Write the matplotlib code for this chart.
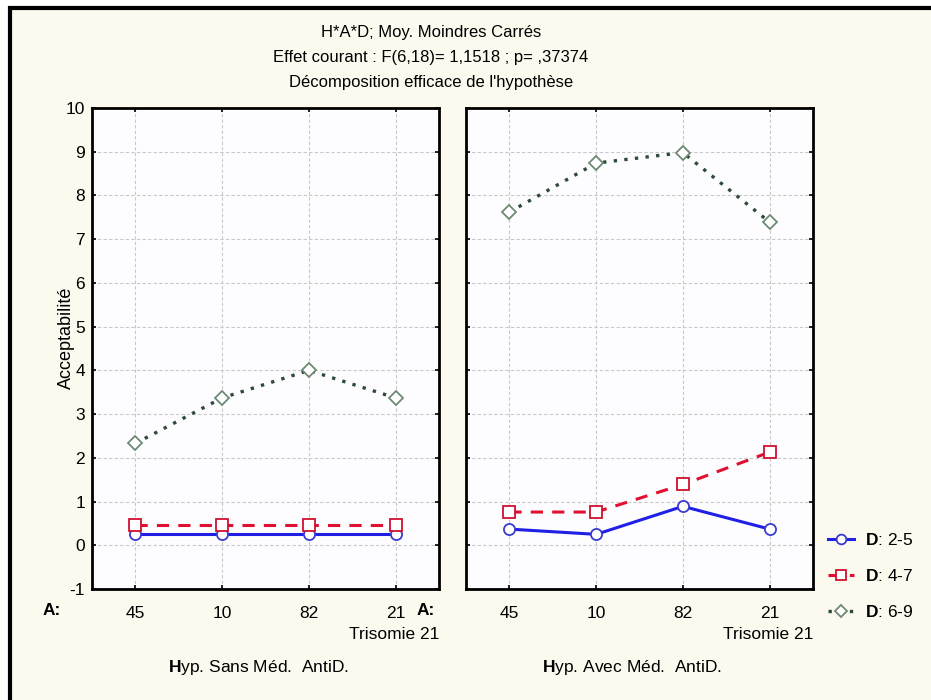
import matplotlib
matplotlib.use("Agg")
import matplotlib.pyplot as plt
from matplotlib.patches import Rectangle
from matplotlib.lines import Line2D

plt.rcParams["font.family"] = ["Liberation Sans", "DejaVu Sans"]
plt.rcParams["mathtext.fontset"] = "custom"
plt.rcParams["mathtext.rm"] = "Liberation Sans"
plt.rcParams["mathtext.bf"] = "Liberation Sans:bold"
plt.rcParams["axes.unicode_minus"] = False

# ---------------------------------------------------------------------------
# Data
# ---------------------------------------------------------------------------
categories = ["45", "10", "82", "21"]
series_labels = ["2-5", "4-7", "6-9"]

sans_d25 = [0.25, 0.25, 0.25, 0.25]
sans_d47 = [0.47, 0.47, 0.47, 0.47]
sans_d69 = [2.33, 3.37, 4.0, 3.37]

avec_d25 = [0.37, 0.25, 0.89, 0.37]
avec_d47 = [0.76, 0.76, 1.39, 2.13]
avec_d69 = [7.62, 8.74, 8.98, 7.39]

panel_titles = ["Sans Méd.  AntiD.", "Avec Méd.  AntiD."]
title_lines = [
    "H*A*D; Moy. Moindres Carrés",
    "Effet courant : F(6,18)= 1,1518 ; p= ,37374",
    "Décomposition efficace de l'hypothèse",
]

# ---------------------------------------------------------------------------
# Styles
# ---------------------------------------------------------------------------
BG = "#fcf9ee"
styles = [
    dict(color="#1f1fe6", ls="-", lw=2.2, marker="o", mec="#3a3ad0", ms=8),
    dict(color="#e01030", ls=(0, (4, 3)), lw=2.2, marker="s", mec="#d01030", ms=8),
    dict(color="#2f4a3a", ls=(0, (1, 2.2)), lw=2.4, marker="D", mec="#6e8a72", ms=7),
]

W, H = 931, 700
fig = plt.figure(figsize=(W / 100, H / 100), dpi=100, facecolor="white")
# page frame: only the top and left edges fall inside the picture
fig.patches.append(Rectangle((10 / W, -0.1), 1.2, 1.1 - 8 / H, transform=fig.transFigure,
                             facecolor=BG, edgecolor="black", lw=3, zorder=-10))

ax_l = fig.add_axes([92 / W, 111 / H, 347 / W, 481 / H])
ax_r = fig.add_axes([466 / W, 111 / H, 347 / W, 481 / H])

x = list(range(len(categories)))
for ax, data, title in [(ax_l, [sans_d25, sans_d47, sans_d69], panel_titles[0]),
                        (ax_r, [avec_d25, avec_d47, avec_d69], panel_titles[1])]:
    ax.set_facecolor("#fdfdff")
    for vals, st in zip(data, styles):
        ax.plot(x, vals, color=st["color"], ls=st["ls"], lw=st["lw"], marker=st["marker"],
                ms=st["ms"], mfc="white", mec=st["mec"], mew=1.3, zorder=3)
    ax.set_xlim(-0.5, 3.5)
    ax.set_ylim(-1, 10)
    ax.set_yticks(range(-1, 11))
    ax.set_xticks(x)
    ax.set_xticklabels(categories, fontsize=12.5)
    ax.grid(True, ls=(0, (3, 2)), color="#c8c8c8", lw=0.8)
    ax.tick_params(direction="in", length=3, width=1.2, top=True, right=True,
                   labelsize=12.5)
    ax.tick_params(axis="x", pad=12)
    for sp in ax.spines.values():
        sp.set_linewidth(2)
        sp.set_color("black")
    ax.text(1.0, -0.095, "Trisomie 21", transform=ax.transAxes, ha="right", va="center",
            fontsize=12.5)
    ax.text(0.5 - 7 / 347, -0.163, r"$\mathbf{H}$yp. " + title, transform=ax.transAxes,
            ha="center", va="center", fontsize=12.5)
    ax.text(-40 / 347, -0.045, "A:", transform=ax.transAxes, ha="center", va="center",
            fontsize=12.5, fontweight="bold")

ax_l.tick_params(axis="y", pad=5)
ax_r.tick_params(labelleft=False)

fig.text(66 / W, 1 - 338 / H, "Acceptabilité", rotation=90, ha="center", va="center",
         fontsize=13)

for i, line in enumerate(title_lines):
    fig.text(431 / W, 1 - (33 + 24.5 * i) / H, line, ha="center", va="center", fontsize=12)

handles = [Line2D([0], [0], color=st["color"], ls=st["ls"], lw=st["lw"], marker=st["marker"],
                  ms=st["ms"] - 1, mfc="white", mec=st["mec"], mew=1.3) for st in styles]
fig.legend(handles, [r"$\mathbf{D}$: " + s for s in series_labels],
           loc="upper left", bbox_to_anchor=(818 / W, 1 - 522 / H), frameon=False,
           handlelength=1.5, handletextpad=0.6, labelspacing=1.15, fontsize=12.5,
           borderaxespad=0.2)

fig.savefig("out.png", dpi=100, facecolor=fig.get_facecolor())
